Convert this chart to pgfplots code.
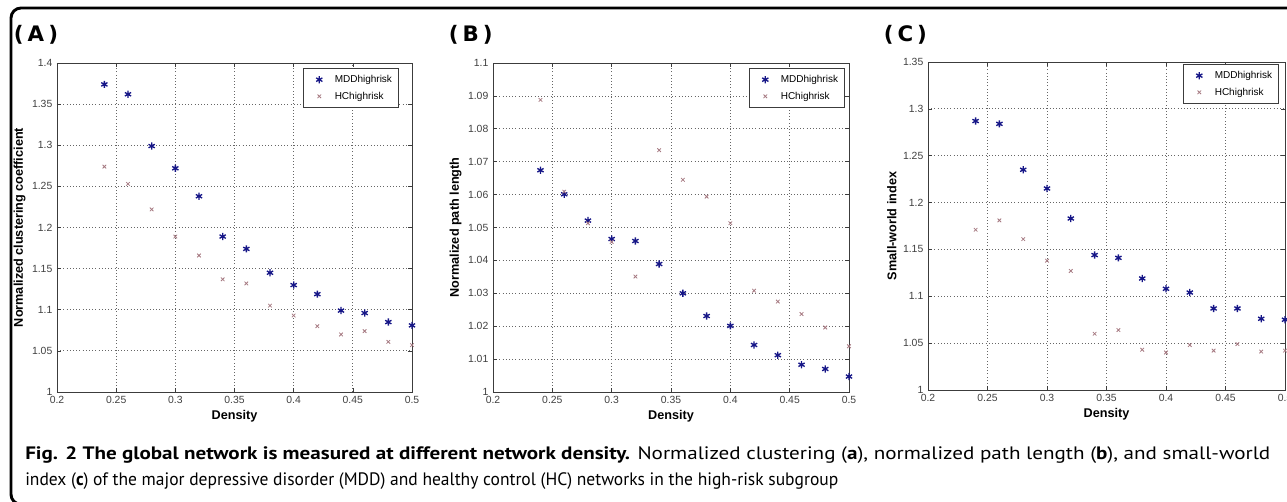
\documentclass[border=0pt]{standalone}
\usepackage{fontspec}
\usepackage{graphicx}
\usepackage{pgfplots}
\pgfplotsset{compat=1.18}
\setmainfont{Liberation Sans}
\newfontfamily\capfont{PT Sans}
\newfontfamily\panelfont{DejaVu Sans}

\definecolor{mddblue}{RGB}{22,22,135}
\definecolor{hcrose}{RGB}{165,120,128}
\definecolor{axgray}{RGB}{60,60,60}

\pgfplotsset{
  matlab/.style={
    scale only axis,
    anchor=south west,
    xmin=0.2, xmax=0.5,
    xtick={0.2,0.25,0.3,0.35,0.4,0.45,0.5},
    tick align=inside,
    major tick length=3pt,
    grid=major,
    major grid style={dotted, black!60, line width=0.6pt},
    axis line style={axgray, line width=0.6pt},
    every tick/.style={axgray, line width=0.5pt},
    tick label style={font=\fontsize{7.8}{9}\selectfont, text=black!75},
    /pgf/number format/assume math mode=true,
    /pgf/number format/fixed,
    /pgf/number format/precision=2,
    label style={font=\fontsize{9.5}{11}\selectfont\bfseries},
    xlabel style={yshift=2pt},
    ylabel style={yshift=-2pt},
    xlabel={Density},
    legend cell align=left,
    legend image code/.code={
      \path (0cm,0cm) (0.62cm,0cm);
      \draw[##1] plot coordinates {(0.3cm,0cm)};
    },
    legend style={font=\fontsize{7.5}{8.5}\selectfont, draw=axgray, line width=0.5pt,
      anchor=north east, row sep=1.5pt, inner xsep=3pt, inner ysep=3pt,
      text depth=0.4pt, text height=5.5pt},
  },
  mdd/.style={only marks, mark=asterisk, mark size=2.7pt, line width=1pt, color=mddblue},
  hc/.style={only marks, mark=x, mark size=1.9pt, line width=0.6pt, color=hcrose},
}

\begin{document}
\begin{tikzpicture}
\useasboundingbox (0pt,0pt) rectangle (965.25pt,375.75pt);

% frame
\draw[line width=2.2pt, rounded corners=7.5pt]
  (990pt,369.75pt) -- (8.25pt,369.75pt) -- (8.25pt,-2.5pt) -- (80pt,-2.5pt);

% panel letters
\node[font=\panelfont\bfseries\fontsize{16}{18}\selectfont] at (27pt,349.5pt) {(\hspace{3pt}A\hspace{3pt})};
\node[font=\panelfont\bfseries\fontsize{16}{18}\selectfont] at (353pt,349.5pt) {(\hspace{3pt}B\hspace{3pt})};
\node[font=\panelfont\bfseries\fontsize{16}{18}\selectfont] at (679pt,349.5pt) {(\hspace{3pt}C\hspace{3pt})};

% (A) normalized clustering coefficient
\begin{axis}[matlab,
  at={(42.75pt,81.75pt)}, width=266.25pt, height=246.75pt,
  ymin=1, ymax=1.4,
  ytick={1,1.05,1.1,1.15,1.2,1.25,1.3,1.35,1.4},
  ylabel={Normalized clustering coefficient},
  legend style={at={(1,1)}, xshift=-9.75pt, yshift=-3.75pt},
]
\addplot[mdd] coordinates {
(0.24,1.374) (0.26,1.362) (0.28,1.299) (0.30,1.272) (0.32,1.238)
(0.34,1.189) (0.36,1.174) (0.38,1.145) (0.40,1.130) (0.42,1.119)
(0.44,1.099) (0.46,1.096) (0.48,1.085) (0.50,1.081)
};
\addlegendentry{MDDhighrisk}
\addplot[hc] coordinates {
(0.24,1.274) (0.26,1.253) (0.28,1.222) (0.30,1.189) (0.32,1.166)
(0.34,1.137) (0.36,1.132) (0.38,1.105) (0.40,1.093) (0.42,1.080)
(0.44,1.070) (0.46,1.074) (0.48,1.061) (0.50,1.057)
};
\addlegendentry{HChighrisk}
\end{axis}

% (B) normalized path length
\begin{axis}[matlab,
  at={(369.75pt,81.75pt)}, width=267pt, height=246.75pt,
  ymin=1, ymax=1.1,
  ytick={1,1.01,1.02,1.03,1.04,1.05,1.06,1.07,1.08,1.09,1.1},
  ylabel={Normalized path length},
  legend style={at={(1,1)}, xshift=-3pt, yshift=-3.75pt},
]
\addplot[mdd] coordinates {
(0.24,1.0674) (0.26,1.0601) (0.28,1.0521) (0.30,1.0465) (0.32,1.0459)
(0.34,1.0389) (0.36,1.0300) (0.38,1.0231) (0.40,1.0201) (0.42,1.0143)
(0.44,1.0112) (0.46,1.0083) (0.48,1.0070) (0.50,1.0047)
};
\addlegendentry{MDDhighrisk}
\addplot[hc] coordinates {
(0.24,1.0888) (0.26,1.0609) (0.28,1.0513) (0.30,1.0456) (0.32,1.0351)
(0.34,1.0735) (0.36,1.0645) (0.38,1.0594) (0.40,1.0513) (0.42,1.0308)
(0.44,1.0275) (0.46,1.0237) (0.48,1.0196) (0.50,1.0139)
};
\addlegendentry{HChighrisk}
\end{axis}

% (C) small-world index
\begin{axis}[matlab,
  at={(696pt,83.25pt)}, width=267.75pt, height=246pt,
  ymin=1, ymax=1.35,
  ytick={1,1.05,1.1,1.15,1.2,1.25,1.3,1.35},
  ylabel={Small-world index},
  legend style={at={(1,1)}, xshift=-4.5pt, yshift=-1.5pt},
]
\addplot[mdd] coordinates {
(0.24,1.287) (0.26,1.284) (0.28,1.235) (0.30,1.215) (0.32,1.183)
(0.34,1.144) (0.36,1.141) (0.38,1.119) (0.40,1.108) (0.42,1.104)
(0.44,1.087) (0.46,1.087) (0.48,1.076) (0.50,1.075)
};
\addlegendentry{MDDhighrisk}
\addplot[hc] coordinates {
(0.24,1.171) (0.26,1.181) (0.28,1.161) (0.30,1.138) (0.32,1.127)
(0.34,1.060) (0.36,1.064) (0.38,1.043) (0.40,1.040) (0.42,1.048)
(0.44,1.042) (0.46,1.049) (0.48,1.041) (0.50,1.042)
};
\addlegendentry{HChighrisk}
\end{axis}

% caption
\node[anchor=base west, inner sep=0pt] at (18.75pt,31.5pt)
  {\resizebox{933.75pt}{\height}{\capfont\fontsize{13.5}{15}\selectfont
   \textbf{Fig. 2 The global network is measured at different network density.}
   Normalized clustering (\textbf{a}), normalized path length (\textbf{b}), and small-world}};
\node[anchor=base west, inner sep=0pt] at (18.75pt,12pt)
  {\resizebox{609.75pt}{\height}{\capfont\fontsize{13.5}{15}\selectfont
   index (\textbf{c}) of the major depressive disorder (MDD) and healthy control (HC) networks in the high-risk subgroup}};
\end{tikzpicture}
\end{document}
